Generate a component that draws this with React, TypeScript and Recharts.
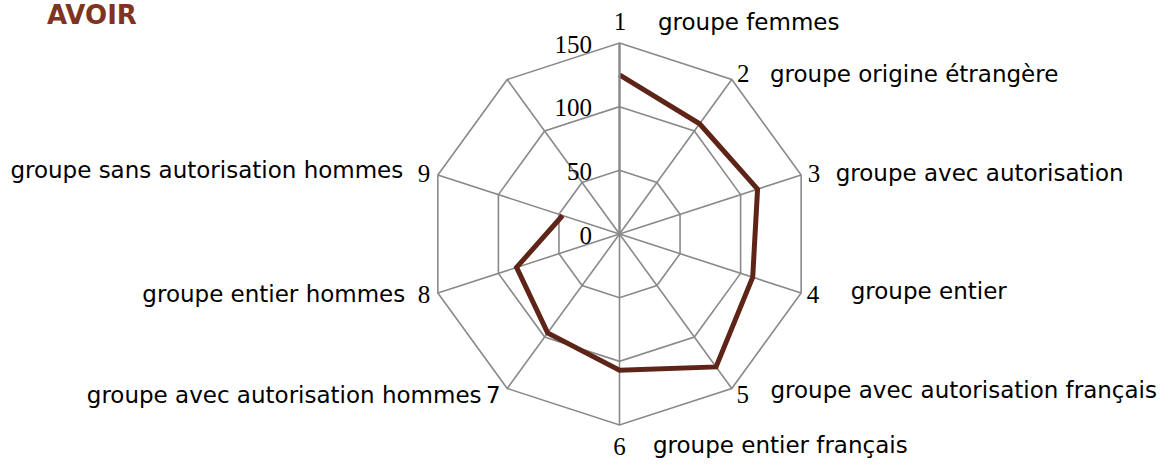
import React from "react";
import { RadarChart, Radar, PolarGrid, PolarAngleAxis, PolarRadiusAxis } from "recharts";

// axis numbers and group names (10th spoke is empty in the source)
const axisNumbers = ["1", "2", "3", "4", "5", "6", "7", "8", "9", ""];
const groupNames = [
	"groupe femmes",
	"groupe origine étrangère",
	"groupe avec autorisation",
	"groupe entier",
	"groupe avec autorisation français",
	"groupe entier français",
	"groupe avec autorisation hommes",
	"groupe entier hommes",
	"groupe sans autorisation hommes",
	"",
];
const avoirValues: (number | null)[] = [125, 107, 114, 110, 129, 107, 96, 85, 47, null];
const radiusTicks = [0, 50, 100, 150];

const data = axisNumbers.map((n, i) => ({
	key: n || "blank",
	value: avoirValues[i],
}));

const GRID = "#898989";
const LINE = "#5e2417";
const SANS = "'DejaVu Sans', Verdana, sans-serif";
const SERIF = "'Liberation Serif', 'Times New Roman', serif";

// label placement relative to the tick point of each spoke
const labelLayout = [
	{ nx: 0.5, ny: -5, na: "middle", tx: 38.5, ty: -5, ta: "start" },
	{ nx: 0.5, ny: 8.7, na: "start", tx: 33.5, ty: 8.7, ta: "start" },
	{ nx: -1, ny: 9, na: "start", tx: 27, ty: 8, ta: "start" },
	{ nx: -2, ny: 7.5, na: "start", tx: 42, ty: 4, ta: "start" },
	{ nx: 0, ny: 8, na: "start", tx: 34, ty: 3, ta: "start" },
	{ nx: 0, ny: 22, na: "middle", tx: 33.5, ty: 20, ta: "start" },
	{ nx: -2, ny: 8, na: "end", tx: -21, ty: 7.7, ta: "end", sansNum: true },
	{ nx: 0, ny: 7.5, na: "end", tx: -25, ty: 6.5, ta: "end" },
	{ nx: 0, ny: 9, na: "end", tx: -27, ty: 5, ta: "end" },
	null,
];

const AngleTick = ({ x, y, index }: any) => {
	const l: any = labelLayout[index];
	if (!l) return null;
	return (
		<g>
			<text
				x={x + l.nx}
				y={y + l.ny}
				textAnchor={l.na}
				fontFamily={l.sansNum ? SANS : SERIF}
				fontSize={l.sansNum ? 23 : 25}
				fill='#000'
			>
				{axisNumbers[index]}
			</text>
			<text x={x + l.tx} y={y + l.ty} textAnchor={l.ta} fontFamily={SANS} fontSize={23} fill='#000'>
				{groupNames[index]}
			</text>
		</g>
	);
};

const RadiusTick = ({ x, y, payload }: any) => (
	<text x={x - 27.5} y={y + 9.5} textAnchor='end' fontFamily={SERIF} fontSize={25} fill='#000'>
		{payload.value}
	</text>
);

// open line: the source does not close the polygon back to the first spoke
const OpenLine = (props: any) => {
	const pts = (props.points || []).filter(
		(p: any) => p.value != null && Number.isFinite(p.x) && Number.isFinite(p.y)
	);
	if (!pts.length) return null;
	const d = pts.map((p: any, i: number) => `${i === 0 ? "M" : "L"}${p.x},${p.y}`).join("");
	return <path d={d} fill='none' stroke={LINE} strokeWidth={5} strokeLinejoin='miter' />;
};

export default function App() {
	return (
		<div style={{ position: "absolute", left: 0, top: 0, width: 1175, height: 465, background: "#fff" }}>
			<div
				style={{
					position: "absolute",
					left: 47,
					top: 3,
					fontFamily: SANS,
					fontWeight: "bold",
					fontSize: 26,
					lineHeight: "25px",
					color: "#7f3322",
				}}
			>
				AVOIR
			</div>
			<RadarChart
				width={1175}
				height={465}
				data={data}
				cx={619.5}
				cy={234}
				outerRadius={191}
				margin={{ top: 0, right: 0, bottom: 0, left: 0 }}
			>
				<PolarGrid gridType='polygon' stroke={GRID} strokeWidth={1.6} />
				<PolarAngleAxis dataKey='key' axisLine={false} tickLine={false} tick={<AngleTick />} />
				<PolarRadiusAxis
					angle={90}
					domain={[0, 150]}
					ticks={radiusTicks as any}
					tickCount={4}
					axisLine={{ stroke: GRID, strokeWidth: 2.2 }}
					tickLine={false}
					tick={<RadiusTick />}
				/>
				<Radar dataKey='value' shape={<OpenLine />} isAnimationActive={false} dot={false} />
			</RadarChart>
		</div>
	);
}
